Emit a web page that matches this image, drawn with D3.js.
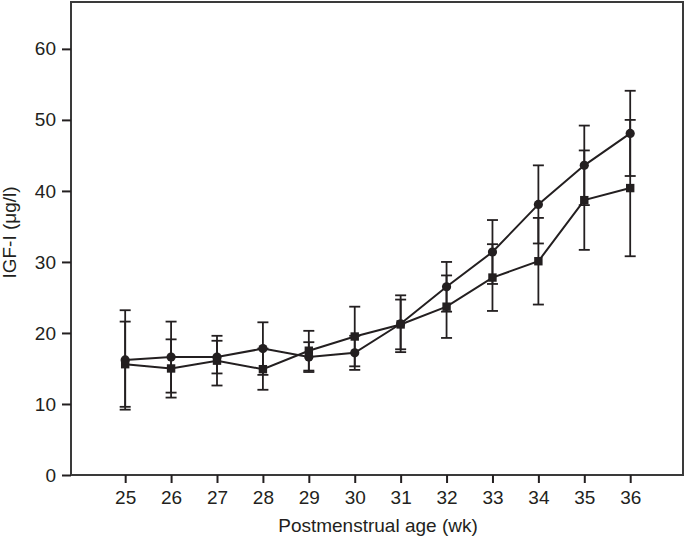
<!DOCTYPE html>
<html>
<head>
<meta charset="utf-8">
<script src="https://cdn.jsdelivr.net/npm/d3@7"></script>
<style>
  html, body { margin: 0; padding: 0; background: #fff; }
  svg { display: block; }
  text { font-family: "Liberation Sans", Arial, Helvetica, sans-serif; fill: #231f20; }
</style>
</head>
<body>
<svg id="chart" width="685" height="540"></svg>
<script>
// ---- data ----
const weeks = [25, 26, 27, 28, 29, 30, 31, 32, 33, 34, 35, 36];
const circleMean = [16.2, 16.6, 16.6, 17.8, 16.6, 17.2, 21.3, 26.5, 31.4, 38.1, 43.6, 48.1];
const circleSD   = [7.0, 5.0, 2.3, 3.7, 2.1, 2.4, 4.0, 3.5, 4.5, 5.5, 5.6, 6.0];
const squareMean = [15.6, 15.0, 16.1, 14.9, 17.5, 19.5, 21.2, 23.7, 27.8, 30.1, 38.7, 40.4];
const squareSD   = [6.0, 4.1, 3.5, 2.9, 2.8, 4.2, 3.5, 4.4, 4.7, 6.1, 7.0, 9.6];
const yTicks = [0, 10, 20, 30, 40, 50, 60];
const xLabel = "Postmenstrual age (wk)";
const yLabel = "IGF-I (μg/l)";

// ---- layout ----
const svg = d3.select("#chart");
const L = 71, R = 683, T = 2, B = 475;
const ink = "#231f20";

const x = d3.scaleLinear().domain([23.82, 37.15]).range([L, R]);
const y = d3.scaleLinear().domain([0, 66.6]).range([B, T]);

// frame
svg.append("rect")
  .attr("x", L).attr("y", T).attr("width", R - L).attr("height", B - T)
  .attr("fill", "none").attr("stroke", "#3a3a3a").attr("stroke-width", 2);

// axes
const xAxis = svg.append("g").attr("transform", `translate(0,${B})`)
  .call(d3.axisBottom(x).tickValues(weeks).tickFormat(d3.format("d")).tickSize(8).tickPadding(8));
const yAxis = svg.append("g").attr("transform", `translate(${L},0)`)
  .call(d3.axisLeft(y).tickValues(yTicks).tickFormat(d3.format("d")).tickSize(9).tickPadding(6));
[xAxis, yAxis].forEach(g => {
  g.select(".domain").remove();
  g.selectAll(".tick line").attr("stroke", ink).attr("stroke-width", 2);
  g.selectAll(".tick text").attr("fill", ink).style("font-size", "19px")
    .style("font-family", '"Liberation Sans", Arial, sans-serif');
});

// axis titles
svg.append("text").attr("x", (L + R) / 2 + 1).attr("y", 532)
  .attr("text-anchor", "middle").style("font-size", "19px").text(xLabel);
svg.append("text")
  .attr("transform", `translate(16,${(T + B) / 2 - 6}) rotate(-90)`)
  .attr("text-anchor", "middle").style("font-size", "19px").text(yLabel);

// series
const series = [
  { mean: squareMean, sd: squareSD, shape: "square" },
  { mean: circleMean, sd: circleSD, shape: "circle" }
];
const capW = 11;
const plot = svg.append("g");

// error bars
series.forEach(s => {
  const g = plot.append("g");
  weeks.forEach((w, i) => {
    const cx = x(w), hi = y(s.mean[i] + s.sd[i]), lo = y(s.mean[i] - s.sd[i]);
    g.append("line").attr("x1", cx).attr("x2", cx).attr("y1", hi).attr("y2", lo)
      .attr("stroke", ink).attr("stroke-width", 1.8);
    [hi, lo].forEach(yy => g.append("line")
      .attr("x1", cx - capW / 2).attr("x2", cx + capW / 2).attr("y1", yy).attr("y2", yy)
      .attr("stroke", ink).attr("stroke-width", 1.8));
  });
});

// lines
const line = d3.line().x((d, i) => x(weeks[i])).y(d => y(d));
series.forEach(s => {
  plot.append("path").datum(s.mean).attr("d", line)
    .attr("fill", "none").attr("stroke", ink).attr("stroke-width", 2);
});

// markers
series.forEach(s => {
  const g = plot.append("g");
  weeks.forEach((w, i) => {
    if (s.shape === "circle") {
      g.append("circle").attr("cx", x(w)).attr("cy", y(s.mean[i])).attr("r", 4.6).attr("fill", ink);
    } else {
      g.append("rect").attr("x", x(w) - 4.2).attr("y", y(s.mean[i]) - 4.2)
        .attr("width", 8.4).attr("height", 8.4).attr("fill", ink);
    }
  });
});
</script>
</body>
</html>
